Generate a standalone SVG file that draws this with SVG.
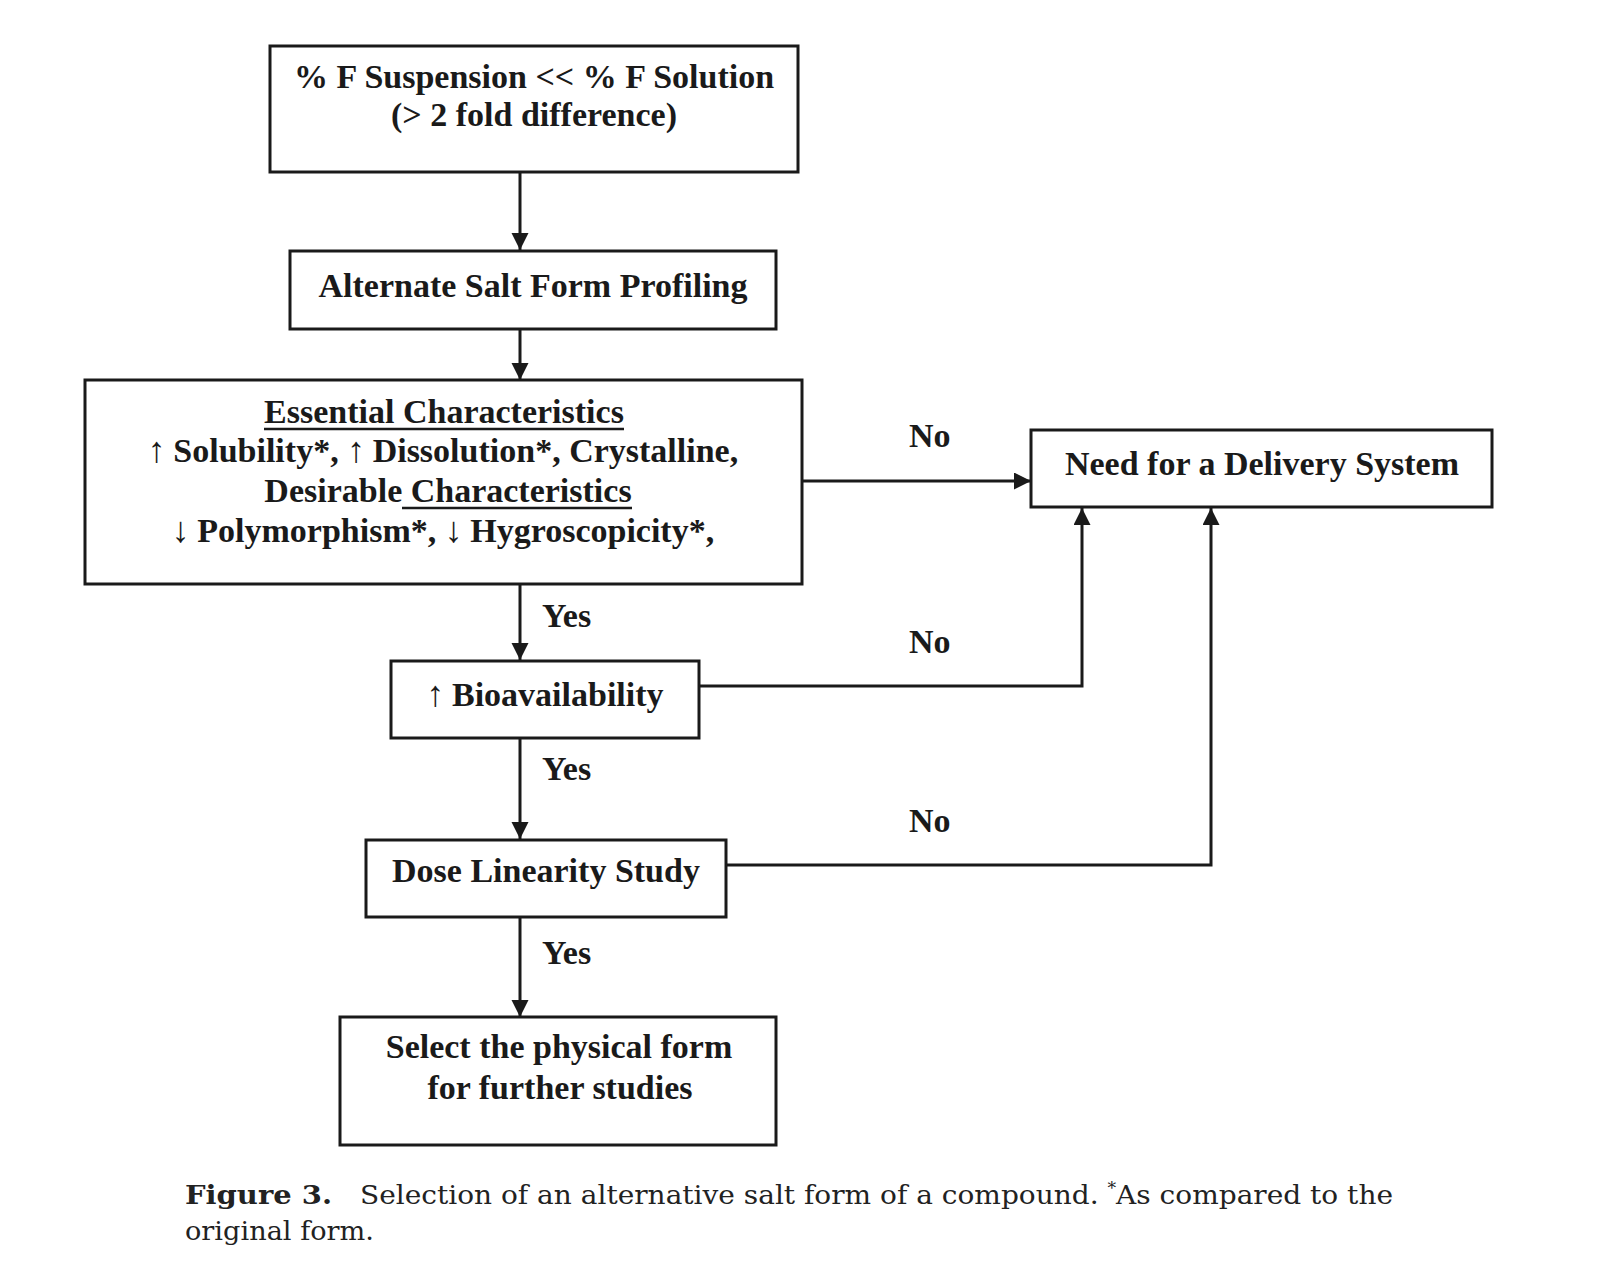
<svg xmlns="http://www.w3.org/2000/svg" width="1616" height="1266" viewBox="0 0 1616 1266">
  <style>
    .box { fill: #ffffff; stroke: #1a1a1a; stroke-width: 3; }
    .t { font-family: "Liberation Serif", "Times New Roman", serif; font-weight: bold; font-size: 34px; fill: #1a1a1a; text-anchor: middle; }
    .lbl { font-family: "Liberation Serif", "Times New Roman", serif; font-weight: bold; font-size: 34px; fill: #1a1a1a; }
    .ar { font-weight: normal; font-size: 36px; }
    .ul { stroke: #1a1a1a; stroke-width: 2.5; }
    .conn { fill: none; stroke: #1a1a1a; stroke-width: 3; marker-end: url(#ah); }
    .cap { font-family: "DejaVu Serif", "Liberation Serif", serif; font-size: 26px; fill: #222222; }
  </style>
  <defs>
    <marker id="ah" markerUnits="userSpaceOnUse" markerWidth="18" markerHeight="18" refX="17" refY="8.5" orient="auto">
      <path d="M0,0 L17,8.5 L0,17 z" fill="#1a1a1a"/>
    </marker>
  </defs>
  <rect width="1616" height="1266" fill="#ffffff"/>

  <g id="connectors">
    <line class="conn" x1="520" y1="172" x2="520" y2="250"/>
    <line class="conn" x1="520" y1="329" x2="520" y2="380"/>
    <line class="conn" x1="802" y1="481" x2="1031" y2="481"/>
    <line class="conn" x1="520" y1="584" x2="520" y2="660"/>
    <polyline class="conn" points="699,686 1082,686 1082,508"/>
    <line class="conn" x1="520" y1="738" x2="520" y2="839"/>
    <polyline class="conn" points="726,865 1211,865 1211,508"/>
    <line class="conn" x1="520" y1="917" x2="520" y2="1017"/>
    <text class="lbl" x="909" y="447">No</text>
    <text class="lbl" x="909" y="653">No</text>
    <text class="lbl" x="909" y="832">No</text>
    <text class="lbl" x="542" y="627">Yes</text>
    <text class="lbl" x="542" y="780">Yes</text>
    <text class="lbl" x="542" y="964">Yes</text>
  </g>

  <g id="node-suspension">
    <rect class="box" x="270" y="46" width="528" height="126"/>
    <text class="t" x="534" y="88">% F Suspension &lt;&lt; % F Solution</text>
    <text class="t" x="534" y="126">(&gt; 2 fold difference)</text>
  </g>

  <g id="node-profiling">
    <rect class="box" x="290" y="251" width="486" height="78"/>
    <text class="t" x="533" y="297">Alternate Salt Form Profiling</text>
  </g>

  <g id="node-characteristics">
    <rect class="box" x="85" y="380" width="717" height="204"/>
    <text class="t" x="444" y="423">Essential Characteristics</text>
    <line class="ul" x1="264" y1="429" x2="624" y2="429"/>
    <text class="t" x="443" y="462"><tspan class="ar">↑</tspan><tspan dx="-1"> Solubility*, </tspan><tspan class="ar">↑</tspan><tspan dx="-1"> Dissolution*, Crystalline,</tspan></text>
    <text class="t" x="448" y="502">Desirable Characteristics</text>
    <line class="ul" x1="402" y1="508" x2="632" y2="508"/>
    <text class="t" x="443" y="542"><tspan class="ar">↓</tspan><tspan dx="-1"> Polymorphism*, </tspan><tspan class="ar">↓</tspan><tspan dx="-1"> Hygroscopicity*,</tspan></text>
  </g>

  <g id="node-delivery">
    <rect class="box" x="1031" y="430" width="461" height="77"/>
    <text class="t" x="1262" y="475">Need for a Delivery System</text>
  </g>

  <g id="node-bioavailability">
    <rect class="box" x="391" y="661" width="308" height="77"/>
    <text class="t" x="545" y="706"><tspan class="ar">↑</tspan><tspan dx="-1"> Bioavailability</tspan></text>
  </g>

  <g id="node-dose">
    <rect class="box" x="366" y="840" width="360" height="77"/>
    <text class="t" x="546" y="882">Dose Linearity Study</text>
  </g>

  <g id="node-select">
    <rect class="box" x="340" y="1017" width="436" height="128"/>
    <text class="t" x="559" y="1058">Select the physical form</text>
    <text class="t" x="560" y="1099">for further studies</text>
  </g>

  <g id="caption">
    <text class="cap" x="185" y="1204" font-weight="bold" textLength="147" lengthAdjust="spacingAndGlyphs">Figure 3.</text>
    <text class="cap" x="360" y="1204" textLength="1033" lengthAdjust="spacingAndGlyphs">Selection of an alternative salt form of a compound. <tspan font-size="16" dy="-10">*</tspan><tspan dy="10">As compared to the</tspan></text>
    <text class="cap" x="185" y="1240" textLength="189" lengthAdjust="spacingAndGlyphs">original form.</text>
  </g>
</svg>
